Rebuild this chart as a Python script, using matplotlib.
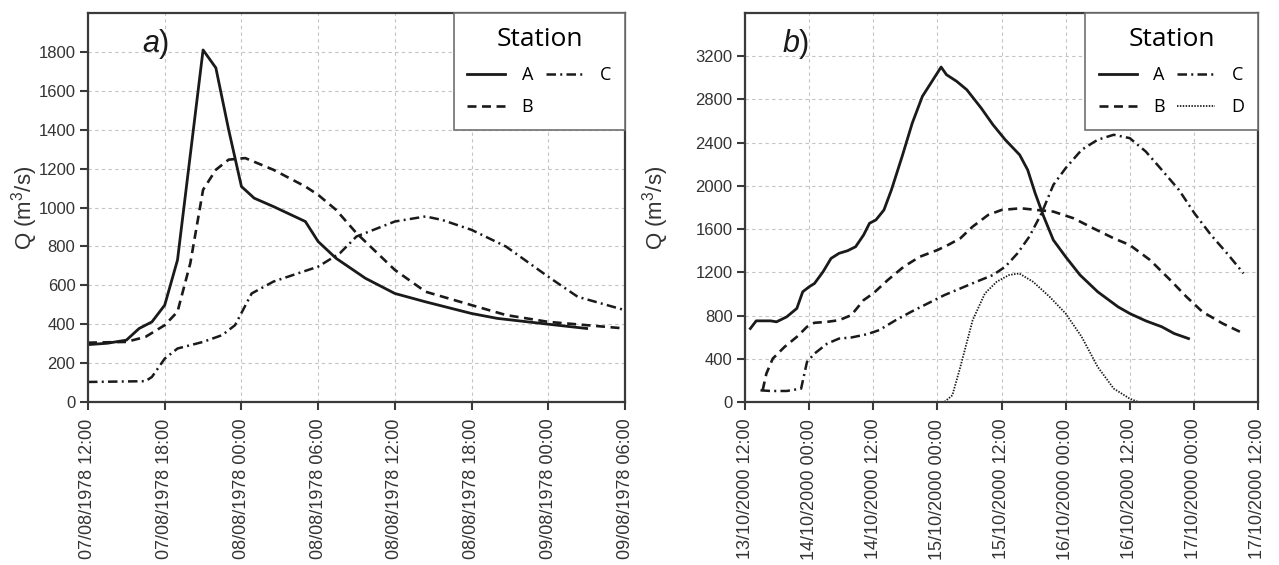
import matplotlib
matplotlib.use('Agg')
import matplotlib.pyplot as plt
import matplotlib.dates as mdates
import numpy as np
import pandas as pd

plt.rcParams['font.family'] = ['Liberation Sans', 'DejaVu Sans']
plt.rcParams['mathtext.fontset'] = 'custom'
plt.rcParams['mathtext.rm'] = 'Liberation Sans'
plt.rcParams['mathtext.it'] = 'Liberation Sans:italic'

# --- event a): August 1978, hours after 07/08/1978 12:00 ---
start_a = pd.Timestamp('1978-08-07 12:00')
a_A_hours = [0, 1.5, 3, 4, 5, 6, 7, 9, 10, 11, 12, 13, 14.5, 17, 18, 19.4, 21.7, 24, 26.4, 30, 32, 36, 39]
a_A_q = [295, 302, 318, 378, 412, 498, 730, 1810, 1718, 1400, 1108, 1048, 1005, 928, 825, 739, 636, 558, 515, 455, 430, 400, 378]
a_B_hours = [0, 3, 4.5, 6, 7, 8, 9, 10, 11, 12.3, 14.5, 17, 18, 19.4, 21, 24, 26.4, 30, 32.7, 36, 39, 42]
a_B_q = [305, 309, 335, 395, 464, 713, 1091, 1194, 1246, 1254, 1194, 1108, 1065, 988, 868, 679, 567, 498, 447, 412, 395, 378]
a_C_hours = [0, 4.5, 5, 6, 7, 9, 10.5, 11.5, 12.8, 14.5, 16.4, 18, 19.7, 21, 24, 26.4, 27.7, 30, 32.7, 36, 38.3, 42]
a_C_q = [103, 107, 129, 223, 275, 309, 344, 395, 558, 619, 661, 696, 765, 851, 928, 954, 936, 885, 799, 644, 541, 472]

# --- event b): October 2000, hours after 13/10/2000 12:00 ---
start_b = pd.Timestamp('2000-10-13 12:00')
b_A_hours = [1, 2.1, 4.8, 5.9, 7.8, 9.7, 10.8, 12, 13, 14.6, 16.1, 17.6, 19.2, 20.7, 22.2, 23.3, 24.5, 26,
             27.4, 29.4, 31.3, 33.2, 35, 36.7, 37.7, 39.6, 41.5, 44.2, 46.4, 48.7, 51.4, 52.9, 54.3, 55.9,
             57.7, 60, 62.7, 66, 69.8, 72, 75, 78, 80.3, 83]
b_A_q = [680, 751, 751, 742, 788, 866, 1020, 1066, 1097, 1205, 1329, 1376, 1400, 1437, 1546, 1654, 1685, 1777,
         1963, 2272, 2581, 2829, 2968, 3100, 3029, 2968, 2890, 2720, 2566, 2427, 2287, 2148, 1932, 1716,
         1499, 1344, 1175, 1020, 881, 819, 751, 696, 634, 587]
b_B_hours = [3.3, 4, 5.2, 7.4, 9.7, 11.6, 13, 15.4, 17.6, 19.9, 22.2, 24, 26.7, 29.7, 32.7, 36, 38, 40.3,
             42.6, 45.5, 48, 51.6, 54.6, 57.7, 61.5, 65.2, 69, 72, 75.8, 79.6, 82.6, 85.6, 89.4, 93.3]
b_B_q = [108, 263, 402, 510, 603, 696, 733, 742, 757, 804, 943, 1005, 1128, 1252, 1344, 1406, 1453, 1515,
         1623, 1731, 1777, 1793, 1777, 1762, 1700, 1607, 1515, 1453, 1314, 1128, 974, 835, 726, 634]
b_C_hours = [2.9, 4.8, 7.8, 10.5, 11.6, 13, 15.4, 17.6, 19.9, 22.9, 25.1, 28.2, 31.1, 34.2, 37.3, 40.3, 43.3,
             46.4, 48.7, 51, 53.2, 55.5, 57.7, 60, 63, 66, 69, 72, 75, 78, 81.2, 84.1, 87.2, 90.2, 93.3]
b_C_q = [108, 102, 102, 124, 371, 448, 541, 587, 597, 628, 665, 757, 835, 912, 989, 1051, 1113,
         1175, 1252, 1376, 1530, 1747, 2009, 2164, 2334, 2427, 2473, 2442, 2318, 2148, 1963, 1747, 1546, 1376, 1190]
b_D_hours = [3.3, 37.3, 38.8, 40.3, 42.6, 44.9, 47.1, 49.4, 51.3, 53.9, 57, 60, 63, 66, 69, 72, 73.6, 93.3]
b_D_q = [0, 0, 62, 325, 757, 1005, 1113, 1175, 1190, 1113, 974, 819, 603, 325, 124, 31, 0, 0]

ink = '#1a1a1a'
styles = {
    'A': dict(linestyle='-', lw=2.0),
    'B': dict(linestyle=(0, (3.4, 2.1)), lw=1.9),
    'C': dict(linestyle=(0, (3.8, 1.7, 0.8, 1.7)), lw=1.8),
    'D': dict(linestyle=(0, (0.8, 0.8)), lw=1.3),
}


def to_time(start, hours):
    return start + pd.to_timedelta(np.array(hours, dtype=float), unit='h')


def style_axes(ax, ticks, ymax, ystep, tag, tag_x, label_x):
    ax.set_xlim(ticks[0], ticks[-1])
    ax.set_xticks(ticks)
    ax.xaxis.set_major_formatter(mdates.DateFormatter('%d/%m/%Y %H:%M'))
    ax.set_ylim(0, ymax)
    ax.set_yticks(np.arange(0, ymax, ystep))
    ax.grid(True, color='#c4c4c4', linestyle=(0, (3, 3)), lw=0.8)
    for sp in ax.spines.values():
        sp.set_color('#3a3a3a')
        sp.set_linewidth(1.6)
    ax.tick_params(axis='both', direction='out', length=6, width=1.5, color='#3a3a3a',
                   labelcolor='#333333')
    ax.tick_params(axis='y', labelsize=12, pad=3)
    ax.tick_params(axis='x', labelsize=13, labelrotation=90, pad=6)
    ax.set_ylabel(r'Q (m$^3$/s)', fontsize=16, color='#333333')
    ax.yaxis.set_label_coords(label_x, 0.5)
    ax.text(tag_x, 0.92, '$' + tag + '$)', transform=ax.transAxes, fontsize=22,
            va='center', ha='left', color=ink)
    leg = ax.legend(loc='upper right', bbox_to_anchor=(1, 1), borderaxespad=0, ncol=2,
                    title='Station', frameon=True, fancybox=False, framealpha=1,
                    edgecolor='#707070', handlelength=2.1, handletextpad=0.9, columnspacing=0.7,
                    borderpad=0.75, labelspacing=0.8,
                    prop={'family': 'Open Sans', 'size': 13},
                    title_fontproperties={'family': 'Open Sans', 'size': 19})
    leg.get_frame().set_linewidth(1.2)


fig = plt.figure(figsize=(12.79, 5.65), dpi=100)
ax1 = fig.add_axes([88 / 1279, 1 - 402 / 565, 537 / 1279, 389 / 565])
ax2 = fig.add_axes([745 / 1279, 1 - 402 / 565, 513 / 1279, 389 / 565])

ax1.plot(to_time(start_a, a_A_hours), a_A_q, color=ink, label='A', **styles['A'])
ax1.plot(to_time(start_a, a_B_hours), a_B_q, color=ink, label='B', **styles['B'])
ax1.plot(to_time(start_a, a_C_hours), a_C_q, color=ink, label='C', **styles['C'])
style_axes(ax1, pd.date_range(start_a, periods=8, freq='6h'), 2000, 200, 'a', 0.10, -0.09)

ax2.plot(to_time(start_b, b_A_hours), b_A_q, color=ink, label='A', **styles['A'])
ax2.plot(to_time(start_b, b_B_hours), b_B_q, color=ink, label='B', **styles['B'])
ax2.plot(to_time(start_b, b_C_hours), b_C_q, color=ink, label='C', **styles['C'])
ax2.plot(to_time(start_b, b_D_hours), b_D_q, color=ink, label='D', **styles['D'])
style_axes(ax2, pd.date_range(start_b, periods=9, freq='12h'), 3600, 400, 'b', 0.072, -0.145)

fig.savefig('out.png', dpi=100)
